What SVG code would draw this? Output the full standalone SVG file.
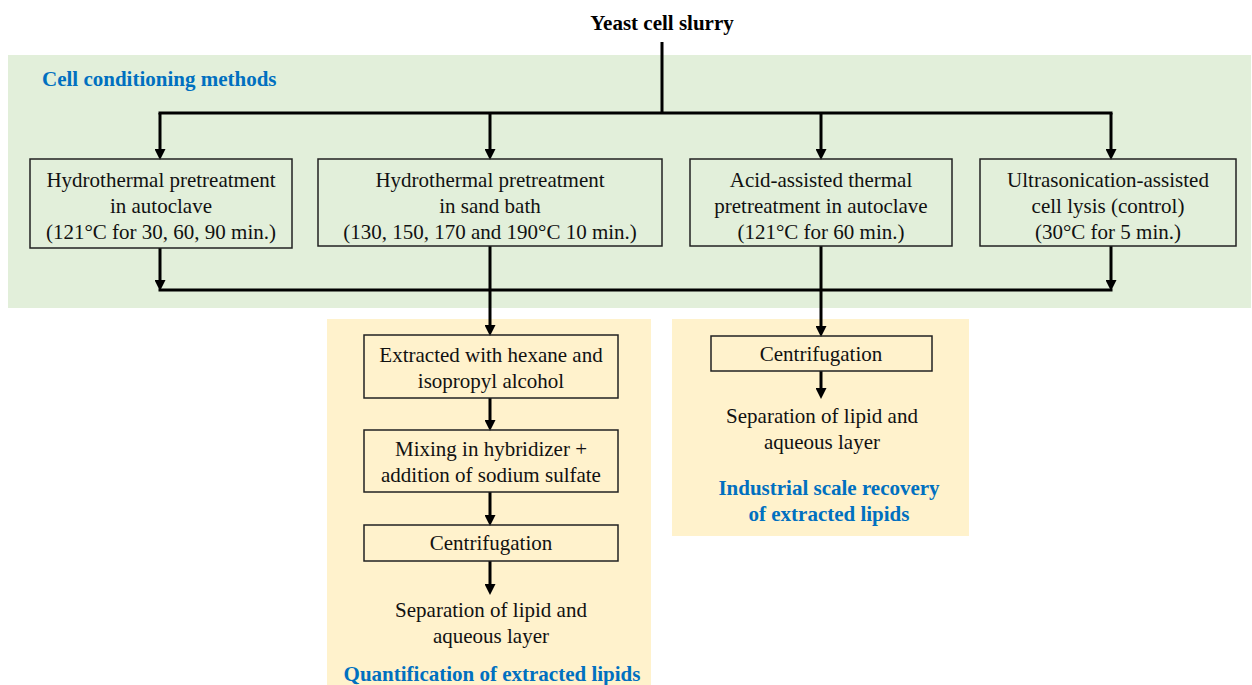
<svg xmlns="http://www.w3.org/2000/svg" width="1252" height="685" viewBox="0 0 1252 685">
<defs>
<marker id="ah" markerUnits="userSpaceOnUse" markerWidth="11" markerHeight="11" refX="4" refY="5.5" orient="auto">
<path d="M0,0 L11,5.5 L0,11 z" fill="#000"/>
</marker>
<style>
.t{font-family:"Liberation Serif","Times New Roman",serif;font-size:21px;fill:#111;text-anchor:middle}
.b{font-family:"Liberation Serif","Times New Roman",serif;font-size:21px;font-weight:bold;text-anchor:middle}
.blue{fill:#0070c0}
.box{fill:none;stroke:#222;stroke-width:1.5}
.c{fill:none;stroke:#000;stroke-width:3}
.a{fill:none;stroke:#000;stroke-width:3;marker-end:url(#ah)}
</style>
</defs>
<rect x="8" y="55" width="1243" height="253" fill="#e2efda"/>
<rect x="327" y="319" width="324" height="366" fill="#fff2cc"/>
<rect x="672" y="319" width="297" height="217" fill="#fff2cc"/>

<g id="title"><text class="b" x="662" y="30">Yeast cell slurry</text></g>
<g id="label-conditioning"><text class="b blue" x="42" y="86" style="text-anchor:start">Cell conditioning methods</text></g>

<g id="connectors">
<path class="c" d="M662 42 V113 M158.5 113 H1112.5"/>
<path class="a" d="M160 113 V153"/>
<path class="a" d="M490 113 V153"/>
<path class="a" d="M821 113 V153"/>
<path class="a" d="M1111 113 V153"/>
<path class="a" d="M160 248 V284"/>
<path class="a" d="M1111 246 V284"/>
<path class="c" d="M158.5 290 H1112.5"/>
<path class="a" d="M490 246 V329"/>
<path class="a" d="M821 246 V330"/>
<path class="a" d="M490 398 V424"/>
<path class="a" d="M490 492 V519"/>
<path class="a" d="M490 561 V588"/>
<path class="a" d="M821 371 V392"/>
</g>

<g id="n1"><rect class="box" x="30" y="159" width="262" height="89"/>
<text class="t" x="161" y="187">Hydrothermal  pretreatment</text>
<text class="t" x="161" y="213">in autoclave</text>
<text class="t" x="161" y="239">(121°C for 30, 60, 90 min.)</text></g>

<g id="n2"><rect class="box" x="318" y="159" width="344" height="87"/>
<text class="t" x="490" y="187">Hydrothermal  pretreatment</text>
<text class="t" x="490" y="213">in sand bath</text>
<text class="t" x="490" y="239">(130, 150, 170 and 190°C 10 min.)</text></g>

<g id="n3"><rect class="box" x="690" y="159" width="262" height="87"/>
<text class="t" x="821" y="187">Acid-assisted  thermal</text>
<text class="t" x="821" y="213">pretreatment  in autoclave</text>
<text class="t" x="821" y="239">(121°C for 60 min.)</text></g>

<g id="n4"><rect class="box" x="980" y="159" width="256" height="87"/>
<text class="t" x="1108" y="187">Ultrasonication-assisted</text>
<text class="t" x="1108" y="213">cell lysis (control)</text>
<text class="t" x="1108" y="239">(30°C for 5 min.)</text></g>

<g id="n5"><rect class="box" x="364" y="335" width="254" height="63"/>
<text class="t" x="491" y="362">Extracted with hexane and</text>
<text class="t" x="491" y="388">isopropyl  alcohol</text></g>

<g id="n6"><rect class="box" x="364" y="430" width="254" height="62"/>
<text class="t" x="491" y="456">Mixing in hybridizer +</text>
<text class="t" x="491" y="482">addition of sodium sulfate</text></g>

<g id="n7"><rect class="box" x="364" y="525" width="254" height="36"/>
<text class="t" x="491" y="550">Centrifugation</text></g>

<g id="n8"><text class="t" x="491" y="617">Separation of lipid and</text>
<text class="t" x="491" y="643">aqueous layer</text></g>

<g id="label-quant"><text class="b blue" x="492" y="681">Quantification  of extracted lipids</text></g>

<g id="n9"><rect class="box" x="711" y="336" width="221" height="35"/>
<text class="t" x="821" y="361">Centrifugation</text></g>

<g id="n10"><text class="t" x="822" y="423">Separation of lipid and</text>
<text class="t" x="822" y="449">aqueous layer</text></g>

<g id="label-industrial"><text class="b blue" x="829" y="495">Industrial scale recovery</text>
<text class="b blue" x="829" y="521">of extracted lipids</text></g>
</svg>
